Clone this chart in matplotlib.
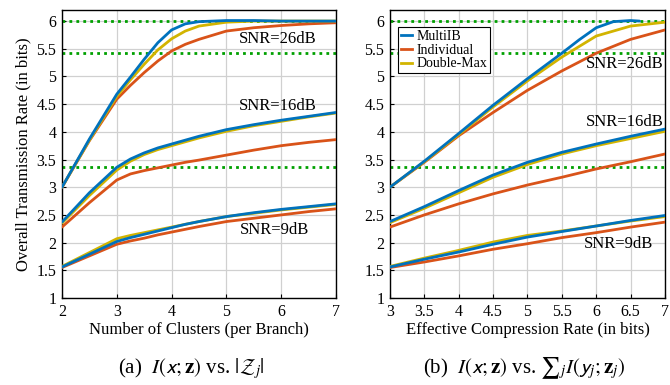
import numpy as np
import matplotlib
matplotlib.use("Agg")
import matplotlib.pyplot as plt

plt.rcParams['font.family'] = ['Liberation Serif', 'DejaVu Serif']
plt.rcParams['mathtext.fontset'] = 'stix'

# colours (MATLAB-ish)
c_multi = '#0072BD'
c_indiv = '#D95319'
c_dmax = '#D2B400'

# ---- (a) rate vs number of clusters ----
xa = [2, 2.5, 3, 3.25, 3.5, 3.75, 4, 4.25, 4.5, 5, 5.5, 6, 6.5, 7]
a26_multi = [3.0, 3.87, 4.68, 4.99, 5.31, 5.61, 5.84, 5.95, 5.99, 6.01, 6.01, 6.0, 6.0, 6.0]
a26_dmax = [3.0, 3.85, 4.64, 4.94, 5.22, 5.48, 5.68, 5.82, 5.91, 5.98, 6.0, 6.0, 6.0, 6.0]
a26_indiv = [3.0, 3.84, 4.59, 4.84, 5.07, 5.28, 5.46, 5.58, 5.67, 5.82, 5.88, 5.92, 5.95, 5.97]
a16_multi = [2.37, 2.9, 3.36, 3.51, 3.62, 3.71, 3.78, 3.85, 3.92, 4.04, 4.13, 4.21, 4.28, 4.35]
a16_dmax = [2.35, 2.85, 3.31, 3.47, 3.59, 3.68, 3.75, 3.82, 3.89, 4.01, 4.11, 4.19, 4.27, 4.34]
a16_indiv = [2.28, 2.72, 3.13, 3.24, 3.3, 3.35, 3.4, 3.45, 3.49, 3.58, 3.67, 3.75, 3.81, 3.86]
a9_multi = [1.56, 1.79, 2.02, 2.09, 2.15, 2.21, 2.27, 2.33, 2.38, 2.47, 2.54, 2.6, 2.65, 2.7]
a9_dmax = [1.57, 1.82, 2.07, 2.13, 2.18, 2.23, 2.28, 2.33, 2.38, 2.47, 2.53, 2.59, 2.64, 2.69]
a9_indiv = [1.55, 1.76, 1.97, 2.03, 2.08, 2.14, 2.19, 2.24, 2.29, 2.38, 2.44, 2.5, 2.56, 2.61]

# ---- (b) rate vs effective compression rate ----
xb = [3, 3.5, 4, 4.5, 5, 5.5, 6, 6.5, 7]
xb26_multi = [3, 3.5, 4, 4.5, 5, 5.5, 5.75, 6, 6.25, 6.5, 6.63]
b26_multi = [3.0, 3.47, 3.97, 4.48, 4.96, 5.42, 5.66, 5.88, 5.99, 6.01, 6.0]
b26_dmax = [3.0, 3.46, 3.95, 4.45, 4.92, 5.35, 5.73, 5.91, 5.98]
b26_indiv = [3.0, 3.45, 3.93, 4.35, 4.75, 5.1, 5.42, 5.67, 5.84]
b16_multi = [2.38, 2.65, 2.94, 3.22, 3.45, 3.63, 3.78, 3.92, 4.05]
b16_dmax = [2.36, 2.62, 2.9, 3.18, 3.41, 3.6, 3.75, 3.88, 4.01]
b16_indiv = [2.28, 2.5, 2.7, 2.88, 3.04, 3.18, 3.33, 3.46, 3.6]
b9_multi = [1.56, 1.70, 1.83, 1.97, 2.10, 2.20, 2.30, 2.40, 2.49]
b9_dmax = [1.57, 1.72, 1.86, 2.01, 2.13, 2.21, 2.30, 2.39, 2.47]
b9_indiv = [1.55, 1.65, 1.76, 1.88, 1.98, 2.09, 2.18, 2.28, 2.37]

# dotted reference levels
ref_levels = [6.0, 5.43, 3.36]

fig = plt.figure(figsize=(6.7, 3.85), dpi=100)
ax1 = fig.add_axes([0.0925, 0.226, 0.409, 0.748])
ax2 = fig.add_axes([0.582, 0.226, 0.4105, 0.748])

lw = 2.0
ln = dict(lw=lw, solid_joinstyle='round', solid_capstyle='round')

def style(ax, xlim, xticks):
    ax.set_xlim(xlim)
    ax.set_ylim(1, 6.2)
    ax.set_xticks(xticks)
    ax.set_yticks(np.arange(1, 6.01, 0.5))
    ax.set_yticklabels(['1', '1.5', '2', '2.5', '3', '3.5', '4', '4.5', '5', '5.5', '6'])
    ax.grid(True, color='#d0d0d0', linewidth=0.9)
    ax.set_axisbelow(True)
    ax.tick_params(direction='in', length=3, labelsize=11.5, pad=4)
    for s in ax.spines.values():
        s.set_linewidth(1.0)
    for lv in ref_levels:
        ax.axhline(lv, color='#00A000', linestyle=(0, (1, 1.5)), linewidth=2.0, zorder=1.5)

# panel (a)
style(ax1, (2, 7), [2, 3, 4, 5, 6, 7])
for m, d, i in [(a26_multi, a26_dmax, a26_indiv),
                (a16_multi, a16_dmax, a16_indiv),
                (a9_multi, a9_dmax, a9_indiv)]:
    ax1.plot(xa, i, color=c_indiv, zorder=3, **ln)
    ax1.plot(xa, d, color=c_dmax, zorder=4, **ln)
    ax1.plot(xa, m, color=c_multi, zorder=5, **ln)
ax1.text(5.94, 5.67, 'SNR=26dB', ha='center', va='center', fontsize=12)
ax1.text(5.94, 4.46, 'SNR=16dB', ha='center', va='center', fontsize=12)
ax1.text(5.87, 2.22, 'SNR=9dB', ha='center', va='center', fontsize=12)
ax1.set_xlabel('Number of Clusters (per Branch)', fontsize=12, labelpad=2)
ax1.set_ylabel('Overall Transmission Rate (in bits)', fontsize=12, labelpad=4)

# panel (b)
style(ax2, (3, 7), [3, 3.5, 4, 4.5, 5, 5.5, 6, 6.5, 7])
ax2.set_xticklabels(['3', '3.5', '4', '4.5', '5', '5.5', '6', '6.5', '7'])
for xm, m, d, i in [(xb26_multi, b26_multi, b26_dmax, b26_indiv),
                    (xb, b16_multi, b16_dmax, b16_indiv),
                    (xb, b9_multi, b9_dmax, b9_indiv)]:
    ax2.plot(xb, i, color=c_indiv, zorder=3, **ln)
    ax2.plot(xb, d, color=c_dmax, zorder=4, **ln)
    ax2.plot(xm, m, color=c_multi, zorder=5, **ln)
ax2.text(6.98, 5.22, 'SNR=26dB', ha='right', va='center', fontsize=12)
ax2.text(6.98, 4.17, 'SNR=16dB', ha='right', va='center', fontsize=12)
ax2.text(6.33, 1.98, 'SNR=9dB', ha='center', va='center', fontsize=12)
ax2.set_xlabel('Effective Compression Rate (in bits)', fontsize=12, labelpad=2)

h1, = ax2.plot([], [], color=c_multi, lw=lw, label='MultiIB')
h2, = ax2.plot([], [], color=c_indiv, lw=lw, label='Individual')
h3, = ax2.plot([], [], color=c_dmax, lw=lw, label='Double-Max')
leg = ax2.legend(handles=[h1, h2, h3], loc='upper left', bbox_to_anchor=(0.03, 0.94),
                 fontsize=10, handlelength=0.8, handletextpad=0.3, borderpad=0.2,
                 labelspacing=0.05, borderaxespad=0.0, fancybox=False, framealpha=1)
leg.get_frame().set_edgecolor('black')
leg.get_frame().set_linewidth(0.8)

fig.text(0.285, 0.044, r'(a)  $I(\mathsf{x};\mathbf{z})$ vs. $|\mathcal{Z}_j|$',
         ha='center', va='center', fontsize=15)
fig.text(0.783, 0.044, r'(b)  $I(\mathsf{x};\mathbf{z})$ vs. $\sum{}_{j} I(\mathsf{y}_j;\mathbf{z}_j)$',
         ha='center', va='center', fontsize=15)

fig.savefig('out.png', dpi=100)
